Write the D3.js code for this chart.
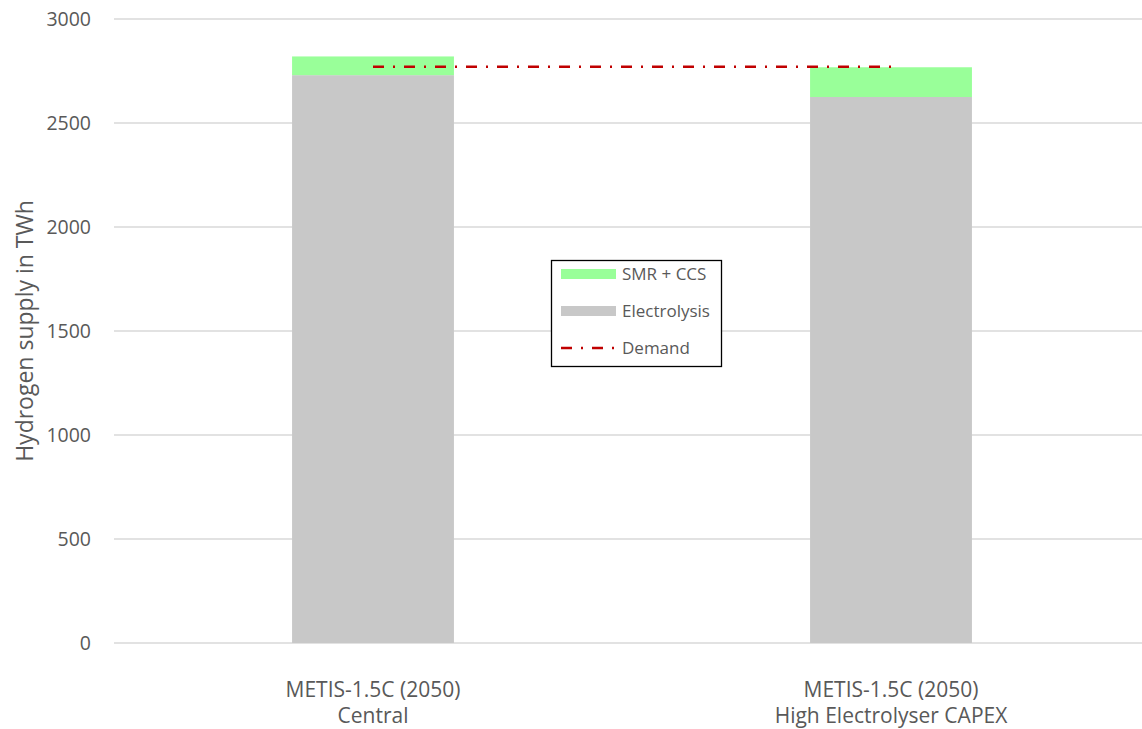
<!DOCTYPE html>
<html>
<head>
<meta charset="utf-8">
<script src="https://cdn.jsdelivr.net/npm/d3@7"></script>
<style>
  html, body { margin: 0; padding: 0; background: #fff; }
  svg { display: block; font-family: "Open Sans", "Noto Sans", sans-serif; }
</style>
</head>
<body>
<svg id="chart" width="1142" height="729"></svg>
<script>
const categories = [["METIS-1.5C (2050)", "Central"], ["METIS-1.5C (2050)", "High Electrolyser CAPEX"]];
const categoryKeys = ["Central", "High Electrolyser CAPEX"];
const electrolysis = [2730, 2625];
const smrCcs = [90, 143];
const demand = [2770, 2770];
const yTicks = [0, 500, 1000, 1500, 2000, 2500, 3000];
const seriesNames = ["SMR + CCS", "Electrolysis", "Demand"];

const svg = d3.select("#chart");
const colors = { smr: "#99FF99", elec: "#C8C8C8", demand: "#C00000", grid: "#D9D9D9", text: "#595959" };

const y = d3.scaleLinear().domain([0, 3000]).range([643, 19]);
const x = d3.scaleBand().domain(categoryKeys).range([114, 1150])
  .paddingInner(0.6875).paddingOuter(0.34375);

// gridlines
svg.append("g").selectAll("line").data(yTicks).join("line")
  .attr("x1", 114).attr("x2", 1142)
  .attr("y1", d => y(d)).attr("y2", d => y(d))
  .attr("stroke", colors.grid).attr("stroke-width", 1.3);

// y axis labels
const yAxis = d3.axisLeft(y).tickValues(yTicks).tickFormat(d3.format("d")).tickSize(0).tickPadding(0);
const ya = svg.append("g").attr("transform", "translate(91,0)").call(yAxis);
ya.select(".domain").remove();
ya.selectAll("text").attr("fill", colors.text).style("font-size", "19.5px")
  .style("font-family", '"Open Sans", sans-serif').attr("dy", "0.35em");

// stacked data
const stackData = categoryKeys.map((k, i) => ({ key: k, elec: electrolysis[i], smr: smrCcs[i] }));
const stack = d3.stack().keys(["elec", "smr"])(stackData);
const fillFor = { elec: colors.elec, smr: colors.smr };

svg.append("g").selectAll("g").data(stack).join("g")
  .attr("fill", s => fillFor[s.key])
  .selectAll("rect").data(s => s).join("rect")
  .attr("x", d => x(d.data.key))
  .attr("width", x.bandwidth())
  .attr("y", d => y(d[1]))
  .attr("height", d => y(d[0]) - y(d[1]));

// demand line from center to center
const line = d3.line().x((d, i) => x(categoryKeys[i]) + x.bandwidth() / 2).y(d => y(d));
svg.append("path").datum(demand).attr("d", line)
  .attr("fill", "none").attr("stroke", colors.demand).attr("stroke-width", 2.5)
  .attr("stroke-dasharray", "11,9,2,9");

// x axis labels
const xl = svg.append("g");
categoryKeys.forEach((k, i) => {
  const t = xl.append("text").attr("x", x(k) + x.bandwidth() / 2).attr("y", 697)
    .attr("text-anchor", "middle").attr("fill", colors.text).style("font-size", "21px");
  categories[i].forEach((line, j) => {
    t.append("tspan").attr("x", x(k) + x.bandwidth() / 2).attr("dy", j === 0 ? 0 : 26).text(line);
  });
});

// y axis title
svg.append("text").attr("transform", "translate(33,331) rotate(-90)")
  .attr("text-anchor", "middle").attr("fill", colors.text).style("font-size", "23px")
  .text("Hydrogen supply in TWh");

// legend
const lg = svg.append("g");
lg.append("rect").attr("x", 551.5).attr("y", 260.5).attr("width", 170).attr("height", 106)
  .attr("fill", "#fff").attr("stroke", "#000").attr("stroke-width", 1.3);
const legendItems = [
  { name: seriesNames[0], type: "rect", color: colors.smr, y: 274 },
  { name: seriesNames[1], type: "rect", color: colors.elec, y: 311 },
  { name: seriesNames[2], type: "line", color: colors.demand, y: 348 }
];
legendItems.forEach(it => {
  if (it.type === "rect") {
    lg.append("rect").attr("x", 561).attr("y", it.y - 5).attr("width", 55).attr("height", 10).attr("fill", it.color);
  } else {
    lg.append("line").attr("x1", 561).attr("x2", 616).attr("y1", it.y).attr("y2", it.y)
      .attr("stroke", it.color).attr("stroke-width", 2.5).attr("stroke-dasharray", "11,9,2,9");
  }
  lg.append("text").attr("x", 622).attr("y", it.y).attr("dy", "0.35em")
    .attr("fill", colors.text).style("font-size", "17px").text(it.name);
});
</script>
</body>
</html>
